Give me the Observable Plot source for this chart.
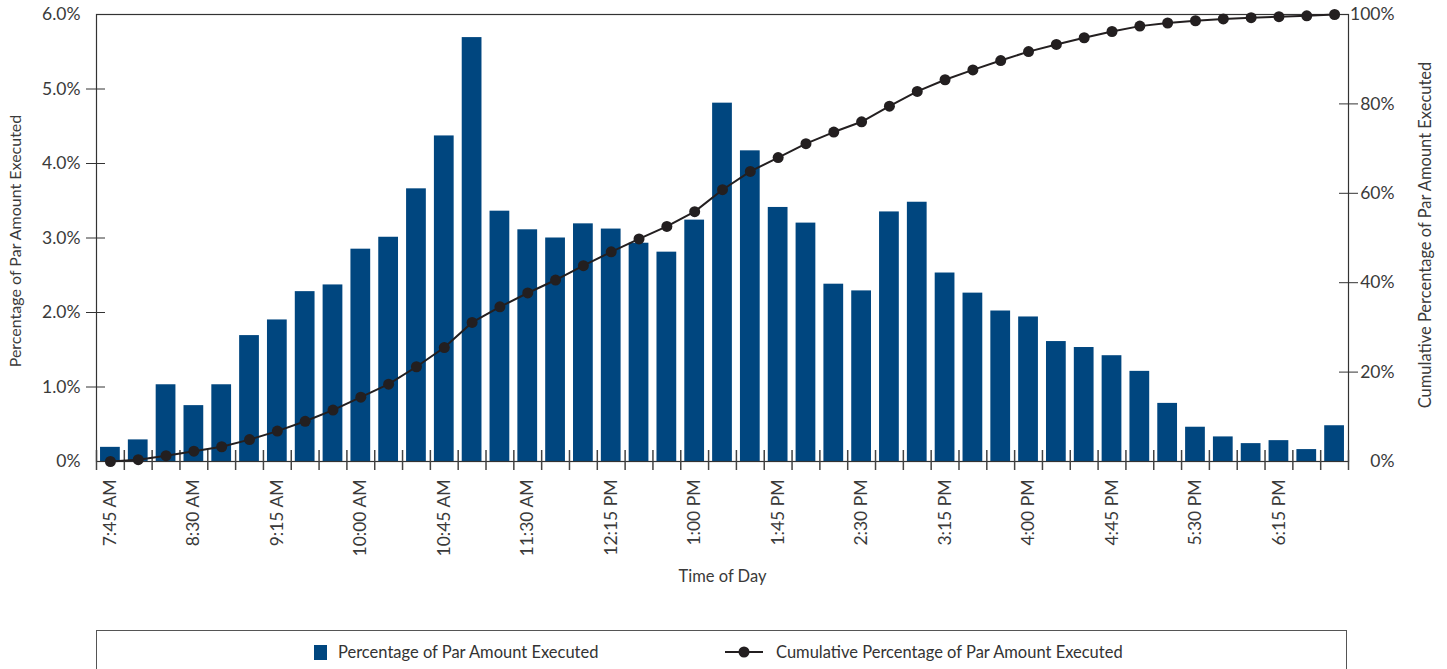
<!DOCTYPE html>
<html>
<head>
<meta charset="utf-8">
<script src="https://cdn.jsdelivr.net/npm/d3@7"></script>
<script src="https://cdn.jsdelivr.net/npm/@observablehq/plot@0.6"></script>
<style>
  html, body { margin: 0; padding: 0; background: #fff; }
  #wrap { position: relative; width: 1447px; height: 669px; overflow: hidden; font-family: Lato, "Open Sans", sans-serif; color: #3a3a3a; }
  #legend { position: absolute; left: 96px; top: 630px; width: 1251px; height: 44px; border: 1px solid #555; box-sizing: border-box; font-size: 16.5px; color: #333; }
  .item { position: absolute; top: 11px; display: flex; align-items: center; height: 20px; white-space: nowrap; }
</style>
</head>
<body>
<div id="wrap"></div>
<script>
// Time of day categories (15-minute buckets)
const times = [
  "7:45 AM","8:00 AM","8:15 AM","8:30 AM","8:45 AM","9:00 AM","9:15 AM","9:30 AM","9:45 AM",
  "10:00 AM","10:15 AM","10:30 AM","10:45 AM","11:00 AM","11:15 AM","11:30 AM","11:45 AM",
  "12:00 PM","12:15 PM","12:30 PM","12:45 PM","1:00 PM","1:15 PM","1:30 PM","1:45 PM",
  "2:00 PM","2:15 PM","2:30 PM","2:45 PM","3:00 PM","3:15 PM","3:30 PM","3:45 PM",
  "4:00 PM","4:15 PM","4:30 PM","4:45 PM","5:00 PM","5:15 PM","5:30 PM","5:45 PM",
  "6:00 PM","6:15 PM","6:30 PM","6:45 PM"
];
// Percentage of par amount executed (%), per bucket
const pct = [
  0.19, 0.29, 1.03, 0.75, 1.03, 1.69, 1.90, 2.28, 2.37,
  2.85, 3.01, 3.66, 4.37, 5.69, 3.36, 3.11, 3.00,
  3.19, 3.12, 2.93, 2.81, 3.24, 4.81, 4.17, 3.41,
  3.20, 2.38, 2.29, 3.35, 3.48, 2.53, 2.26, 2.02,
  1.94, 1.61, 1.53, 1.42, 1.21, 0.78, 0.46, 0.33,
  0.24, 0.28, 0.16, 0.48
];
// Cumulative percentage of par amount executed (%)
const cumulative = [
  0.0, 0.4, 1.3, 2.3, 3.3, 4.9, 6.8, 9.0, 11.5,
  14.4, 17.3, 21.2, 25.5, 31.1, 34.6, 37.7, 40.6,
  43.8, 46.9, 49.8, 52.6, 55.9, 60.8, 64.9, 68.0,
  71.1, 73.7, 76.0, 79.5, 82.8, 85.4, 87.6, 89.7,
  91.7, 93.3, 94.8, 96.2, 97.4, 98.1, 98.6, 99.0,
  99.3, 99.5, 99.7, 100.0
];
const leftTicks = [0, 1, 2, 3, 4, 5, 6];
const rightTicks = [0, 20, 40, 60, 80, 100];
const labelTimes = times.filter((t, i) => i % 3 === 0);

const leftTitle = "Percentage of Par Amount Executed";
const rightTitle = "Cumulative Percentage of Par Amount Executed";
const xTitle = "Time of Day";

const data = times.map((t, i) => ({time: t, pct: pct[i], cum: cumulative[i]}));
const toLeft = v => v * 6 / 100; // map cumulative % onto the left (0–6%) scale

const W = 1447, mL = 96, mR = 99;
const step = (W - mL - mR) / times.length;
const ink = "#333";
const txt = "#3a3a3a";

const chart = Plot.plot({
  width: W, height: 620,
  marginLeft: mL, marginRight: mR, marginTop: 14, marginBottom: 159,
  style: {fontFamily: "Lato, 'Open Sans', sans-serif", fontSize: "17px", color: txt, background: "transparent"},
  x: {type: "band", domain: times, paddingInner: 0.29, paddingOuter: 0.145, axis: null},
  y: {domain: [0, 6], axis: null},
  marks: [
    Plot.barY(data, {x: "time", y: "pct", fill: "#00467f"}),
    Plot.frame({stroke: ink, strokeWidth: 1.2}),
    // x boundary ticks
    Plot.axisX({ticks: times, tickFormat: () => "", label: null, tickSize: 20, dx: -step / 2, dy: -11, stroke: "#444", strokeWidth: 1.5}),
    Plot.axisX({ticks: [times[times.length - 1]], tickFormat: () => "", label: null, tickSize: 20, dx: step / 2, dy: -11, stroke: "#444", strokeWidth: 1.5}),
    // x labels
    Plot.axisX({ticks: labelTimes, label: null, tickSize: 0, tickPadding: 18, tickRotate: -90, fontSize: 17.5, fill: txt}),
    // left axis ticks and labels
    Plot.axisY({anchor: "left", ticks: [1, 2, 3, 4, 5], tickFormat: () => "", label: null, tickSize: 19, dx: 9, stroke: ink}),
    Plot.axisY({anchor: "left", ticks: leftTicks, label: null, tickSize: 0, tickPadding: 16,
      tickFormat: d => d === 0 ? "0%" : d.toFixed(1) + "%", fontSize: 17.5, fill: txt}),
    // right axis ticks and labels
    Plot.axisY({anchor: "right", ticks: rightTicks.slice(1, -1).map(toLeft), tickFormat: () => "", label: null, tickSize: 19, dx: -10, stroke: ink}),
    Plot.axisY({anchor: "right", ticks: rightTicks.map(toLeft), label: null, tickSize: 0, tickPadding: 46, textAnchor: "end",
      tickFormat: d => Math.round(d * 100 / 6) + "%", fontSize: 17.5, fill: txt}),
    // cumulative line
    Plot.line(data, {x: "time", y: d => toLeft(d.cum), stroke: "#231f20", strokeWidth: 2}),
    Plot.dot(data, {x: "time", y: d => toLeft(d.cum), r: 5.5, fill: "#231f20", stroke: "none"}),
    // titles
    Plot.text([leftTitle], {frameAnchor: "left", textAnchor: "middle", dx: -81, dy: 3, rotate: -90, fontSize: 16, fill: txt}),
    Plot.text([rightTitle], {frameAnchor: "right", textAnchor: "middle", dx: 77, dy: -3, rotate: -90, fontSize: 16.5, fill: txt}),
    Plot.text([xTitle], {frameAnchor: "bottom", dy: 120, fontSize: 16.5, fill: txt})
  ]
});

const wrap = document.getElementById("wrap");
wrap.appendChild(chart);

const legend = document.createElement("div");
legend.id = "legend";
legend.innerHTML = `
  <div class="item" style="left:217px"><span style="display:inline-block;width:13px;height:15px;background:#00467f;margin-right:11px"></span><span>${leftTitle}</span></div>
  <div class="item" style="left:628px"><svg width="38" height="14" style="margin-right:13px"><line x1="0" y1="7" x2="38" y2="7" stroke="#231f20" stroke-width="2"/><circle cx="19" cy="7" r="5.5" fill="#231f20"/></svg><span>${rightTitle}</span></div>
`;
wrap.appendChild(legend);
</script>
</body>
</html>
